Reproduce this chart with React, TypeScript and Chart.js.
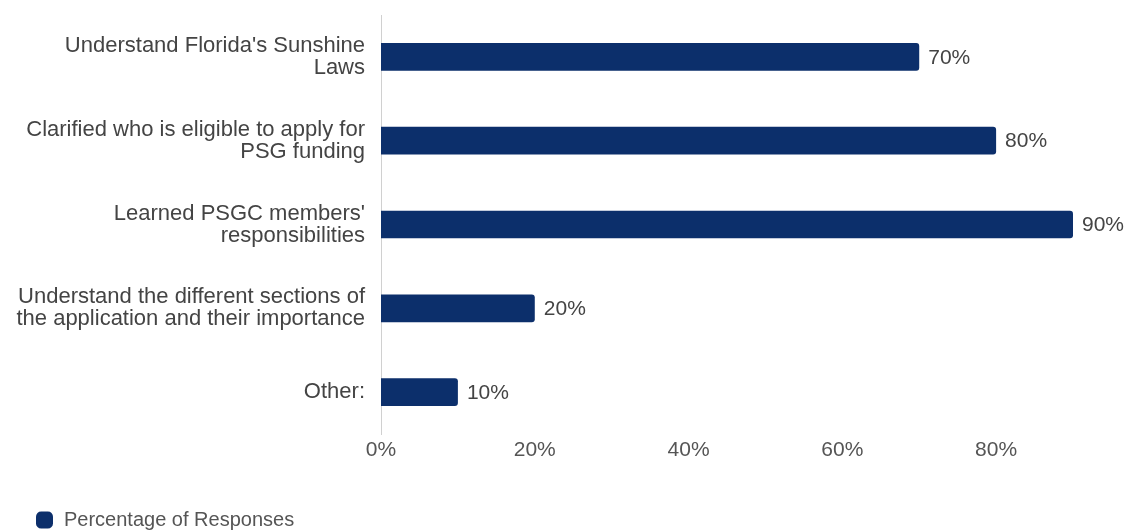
import React, { useEffect, useRef } from "react";
import { Chart, registerables } from "chart.js";

Chart.register(...registerables);

const categories: string[][] = [
  ["Understand Florida's Sunshine", "Laws"],
  ["Clarified who is eligible to apply for", "PSG funding"],
  ["Learned PSGC members'", "responsibilities"],
  ["Understand the different sections of", "the application and their importance"],
  ["Other:"],
];
const seriesName = "Percentage of Responses";
const values: number[] = [70, 80, 90, 20, 10];
const xTicks: number[] = [0, 20, 40, 60, 80];

const FONT = "'Liberation Sans', Arial, Helvetica, sans-serif";
const BAR = "#0c2f6b";

const valueLabels = {
  id: "valueLabels",
  afterDatasetsDraw(chart: any) {
    const ctx = chart.ctx;
    const meta = chart.getDatasetMeta(0);
    ctx.save();
    ctx.font = `21px ${FONT}`;
    ctx.fillStyle = "#444444";
    ctx.textAlign = "left";
    ctx.textBaseline = "middle";
    meta.data.forEach((bar: any, i: number) => {
      ctx.fillText(`${values[i]}%`, bar.x + 9, bar.y + 1);
    });
    ctx.restore();
  },
};

const legendShift = {
  id: "legendShift",
  afterLayout(chart: any) {
    if (chart.legend) {
      chart.legend.left += 34;
    }
  },
};

export default function App() {
  const ref = useRef<HTMLCanvasElement | null>(null);
  useEffect(() => {
    if (!ref.current) return;
    const chart = new Chart(ref.current, {
      type: "bar",
      data: {
        labels: categories,
        datasets: [
          {
            label: seriesName,
            data: values,
            backgroundColor: BAR,
            borderRadius: 3,
            borderSkipped: "start",
            barPercentage: 0.33,
            categoryPercentage: 1,
          },
        ],
      },
      plugins: [valueLabels, legendShift],
      options: {
        indexAxis: "y",
        animation: false,
        responsive: false,
        maintainAspectRatio: false,
        layout: { padding: { left: 0, right: 56, top: 15, bottom: -9 } },
        scales: {
          x: {
            min: 0,
            max: 90,
            afterBuildTicks: (scale: any) => {
              scale.ticks = xTicks.map((v) => ({ value: v }));
            },
            afterFit: (scale: any) => {
              scale.height = 75;
              scale.paddingLeft = 0;
              scale.paddingRight = 0;
            },
            grid: { display: false, drawTicks: false },
            border: { display: false },
            ticks: {
              padding: 4,
              color: "#555555",
              font: { family: FONT, size: 21 },
              callback: (v: any) => `${v}%`,
            },
          },
          y: {
            afterFit: (scale: any) => {
              scale.width = 381;
              scale.paddingTop = 0;
              scale.paddingBottom = 0;
            },
            grid: { display: false, drawTicks: false },
            border: { display: true, color: "#d0d0d0", width: 1, dash: [2, 4] },
            ticks: {
              padding: 16,
              color: "#444444",
              font: { family: FONT, size: 22, lineHeight: 1.0 },
            },
          },
        },
        plugins: {
          tooltip: { enabled: false },
          legend: {
            position: "bottom",
            align: "start",
            labels: {
              usePointStyle: true,
              pointStyle: "rectRounded",
              boxWidth: 19,
              boxHeight: 14,
              padding: 1,
              color: "#555555",
              font: { family: FONT, size: 20 },
            },
          },
        },
      },
    });
    return () => chart.destroy();
  }, []);
  return (
    <div style={{ position: "absolute", left: 0, top: 0, width: 1129, height: 531, background: "#ffffff" }}>
      <canvas ref={ref} width={1129} height={531} style={{ display: "block" }} />
    </div>
  );
}
